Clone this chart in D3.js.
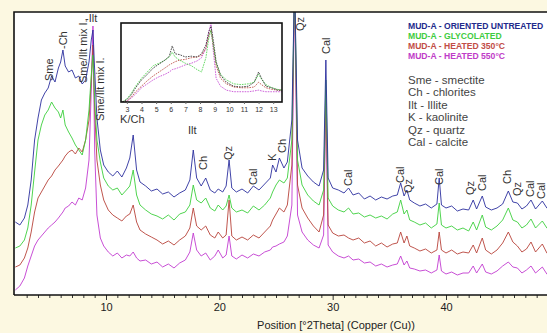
<!DOCTYPE html>
<html>
<head>
<meta charset="utf-8">
<script src="https://cdn.jsdelivr.net/npm/d3@7"></script>
<style>
  body { margin: 0; background: #fcf8e1; }
  svg { display: block; font-family: "Liberation Sans", Arial, sans-serif; }
</style>
</head>
<body>
<script>
// Diffractogram, positions in °2Theta (Cu), intensities in counts
const twoTheta = [
  2.0, 2.4, 2.8, 3.1, 3.4, 3.7, 4.0, 4.3, 4.6, 4.9,
  5.2, 5.5, 5.8, 6.0, 6.2, 6.4, 6.7, 7.0, 7.3, 7.6,
  7.9, 8.2, 8.5, 8.7, 8.85, 9.0, 9.2, 9.5, 9.8, 10.2,
  10.6, 11.0, 11.4, 11.8, 12.1, 12.4, 12.7, 13.0, 13.5, 14.0,
  14.5, 15.0, 15.5, 16.0, 16.5, 17.0, 17.4, 17.7, 18.0, 18.4,
  18.8, 19.2, 19.6, 19.9, 20.3, 20.6, 20.86, 21.1, 21.5, 22.0,
  22.5, 23.0, 23.5, 24.0, 24.5, 24.7, 25.0, 25.3, 25.7, 26.0,
  26.4, 26.64, 26.9, 27.3, 27.8, 28.3, 28.8, 29.2, 29.4, 29.6,
  30.0, 30.5, 31.0, 31.4, 31.8, 32.3, 32.8, 33.3, 33.8, 34.3,
  34.8, 35.3, 35.7, 36.0, 36.3, 36.55, 36.8, 37.2, 37.7, 38.2,
  38.7, 39.2, 39.4, 39.6, 40.0, 40.5, 41.0, 41.5, 42.0, 42.4,
  42.7, 43.2, 43.5, 44.0, 44.5, 45.0, 45.5, 45.9, 46.3, 46.7,
  47.1, 47.5, 47.9, 48.5, 48.9, 49.3
];
const untreated = [
  730, 700, 770, 900, 1150, 1550, 1770, 1950, 2020, 2070,
  2190, 2130, 2270, 2330, 2450, 2290, 2230, 2250, 2170, 2190,
  2110, 2150, 2330, 2550, 2650, 2250, 1770, 1450, 1300, 1230,
  1190, 1240, 1180, 1270, 1370, 1600, 1250, 1130, 1090, 1040,
  1060, 1010, 1030, 980, 1020, 1050, 1150, 1450, 1170, 1090,
  1170, 1050, 1020, 1060, 1030, 1090, 1350, 1070, 1030, 1060,
  1020, 1090, 1050, 1110, 1170, 1300, 1230, 1370, 1270, 1330,
  1750, 3150, 1550, 1270, 1190, 1130, 1090, 1250, 2350, 1170,
  1070, 1050, 1020, 1070, 1000, 1020, 960, 990, 950, 980,
  960, 990, 1000, 1120, 990, 1050, 950, 920, 890, 910,
  870, 910, 1170, 900, 870, 890, 840, 860, 850, 950,
  860, 990, 880, 850, 870, 910, 1040, 930, 920, 860,
  890, 950, 860, 940, 870, 890
];
const glycolated = [
  470, 490, 550, 670, 900, 1230, 1550, 1700, 1800, 1850,
  1930, 1870, 1830, 1770, 1850, 1700, 1630, 1570, 1500, 1450,
  1400, 1550, 1850, 2200, 2400, 1950, 1550, 1330, 1170, 1090,
  1050, 1070, 1000, 1050, 1090, 1250, 1000, 900, 850, 810,
  790, 760, 800, 750, 810, 830, 900, 1100, 950, 920,
  970, 870, 840, 900, 850, 890, 1000, 870, 830, 850,
  820, 890, 850, 900, 970, 1030, 1100, 1150, 1120, 1170,
  1550, 3150, 1350, 1100, 1000, 940, 900, 1050, 2150, 970,
  890, 850, 830, 870, 810, 820, 780, 800, 770, 790,
  760, 810, 830, 950, 810, 850, 750, 730, 700, 720,
  670, 710, 920, 700, 670, 690, 650, 670, 640, 730,
  650, 800, 680, 650, 690, 750, 870, 750, 730, 670,
  700, 760, 670, 740, 670, 690
];
const heated350 = [
  280, 300, 370, 470, 630, 830, 970, 1030, 1090, 1150,
  1190, 1250, 1290, 1320, 1350, 1390, 1430, 1450, 1410, 1470,
  1430, 1550, 1750, 2150, 2500, 1850, 1350, 1100, 950, 850,
  800, 770, 740, 790, 810, 900, 730, 650, 610, 580,
  550, 510, 540, 500, 550, 590, 670, 870, 690, 650,
  690, 600, 570, 630, 570, 600, 950, 590, 550, 580,
  550, 600, 570, 630, 690, 750, 810, 870, 830, 900,
  1300, 3150, 1100, 870, 770, 690, 630, 800, 2050, 700,
  620, 590, 600, 570, 550, 570, 520, 540, 490, 520,
  480, 510, 520, 630, 520, 590, 490, 470, 440, 460,
  420, 450, 630, 450, 420, 450, 410, 430, 420, 500,
  420, 570, 450, 410, 450, 520, 630, 530, 490, 430,
  460, 530, 430, 510, 420, 450
];
const heated550 = [
  50, 90, 170, 290, 390, 490, 550, 590, 630, 670,
  700, 730, 770, 800, 830, 870, 890, 930, 900, 970,
  950, 1070, 1350, 2050, 2690, 1450, 800, 570, 490, 430,
  390, 420, 370, 400, 390, 430, 370, 340, 350, 310,
  330, 280, 310, 270, 320, 350, 430, 620, 450, 390,
  420, 350, 390, 450, 370, 400, 590, 390, 360, 400,
  370, 410, 390, 430, 450, 480, 490, 510, 530, 590,
  900, 3150, 800, 630, 550, 500, 470, 600, 1950, 500,
  430, 390, 370, 390, 350, 360, 320, 330, 290, 310,
  280, 300, 310, 390, 300, 340, 270, 260, 240, 250,
  220, 250, 400, 240, 210, 230, 200, 220, 220, 290,
  220, 310, 230, 210, 240, 290, 330, 280, 270, 220,
  250, 290, 220, 280, 210, 240
];

// Inset: low-angle detail, relative intensity (%)
const insetTheta = [
  2.7, 3.0, 3.3, 3.6, 4.0, 4.4, 4.8, 5.2, 5.6, 5.9,
  6.1, 6.3, 6.6, 7.0, 7.4, 7.8, 8.1, 8.4, 8.6, 8.75,
  8.9, 9.1, 9.4, 9.8, 10.3, 10.8, 11.3, 11.7, 12.0, 12.2,
  12.5, 12.9, 13.3, 13.6
];
const insetUntreated = [
  0, 3, 9, 18, 28, 35, 43, 48, 53, 58,
  71, 61, 60, 57, 58, 57, 61, 72, 89, 96,
  79, 51, 34, 25, 20, 19, 20, 25, 38, 30,
  20, 18, 15, 15
];
const insetGlycolated = [
  0, 4, 11, 20, 30, 38, 46, 49, 53, 57,
  63, 57, 53, 49, 46, 41, 38, 56, 81, 91,
  72, 49, 35, 28, 23, 22, 23, 25, 35, 29,
  22, 18, 16, 15
];
const insetHeated350 = [
  0, 1, 6, 13, 20, 27, 33, 38, 43, 47,
  49, 51, 53, 54, 56, 57, 59, 68, 84, 91,
  72, 46, 30, 23, 19, 18, 18, 19, 25, 22,
  18, 16, 15, 15
];
const insetHeated550 = [
  0, 1, 5, 10, 18, 23, 28, 32, 35, 38,
  41, 42, 44, 47, 49, 52, 56, 68, 89, 100,
  66, 30, 20, 15, 13, 13, 13, 14, 15, 14,
  13, 13, 13, 13
];

const seriesNames = [
  "MUD-A - ORIENTED UNTREATED",
  "MUD-A - GLYCOLATED",
  "MUD-A - HEATED 350°C",
  "MUD-A - HEATED 550°C"
];
const mineralKey = [
  "Sme - smectite", "Ch - chlorites", "Ilt - Illite",
  "K - kaolinite", "Qz - quartz", "Cal - calcite"
];
const xTicks = [10, 20, 30, 40];
const insetTicks = [3, 4, 5, 6, 7, 8, 9, 10, 11, 12, 13];

// peak annotations: mineral, position (°2Theta), intensity where the label starts
const peakLabels = [
  ["Sme", 5.0, 2140], ["-Ch", 6.2, 2460], ["Sme/Ilt mix I.", 8.0, 2120],
  ["Sme/Ilt mix I.", 9.5, 1740], ["Ch", 18.56, 1250], ["Qz", 20.77, 1350],
  ["Cal", 22.97, 1100], ["K", 24.65, 1340], ["Ch", 25.53, 1420],
  ["Qz", 27.1, 2640], ["Cal", 29.42, 2410], ["Cal", 31.36, 1090],
  ["Cal", 35.95, 1120], ["Qz", 36.65, 1020], ["Cal", 39.39, 1100],
  ["Qz", 42.13, 1000], ["Cal", 43.19, 1040], ["Ch", 45.4, 1110],
  ["Qz", 46.27, 990], ["Cal", 47.42, 980], ["Cal", 48.42, 960]
];
const flatLabels = [["-Ilt", 8.15, 2730], ["K/Ch", 11.24, 1720], ["Ilt", 17.24, 1610]];

const colors = ["#2b2f9e", "#3ccf3c", "#b8433a", "#c23bd0"];
const legendColors = ["#222a8c", "#3fcc3f", "#c24c46", "#bf3cc8"];
const insetColors = ["#222", "#3ccf3c", "#b8433a", "#c23bd0"];

const width = 547, height = 333;
const plot = { left: 14, top: 12, bottom: 295 };

const svg = d3.select("body").append("svg")
  .attr("width", width).attr("height", height);

svg.append("rect").attr("width", width).attr("height", height).attr("fill", "#fcf8e1");
svg.append("rect")
  .attr("x", plot.left).attr("y", plot.top)
  .attr("width", width - plot.left + 10).attr("height", plot.bottom - plot.top)
  .attr("fill", "#fff");

const x = d3.scaleLinear().domain([10, 40]).range([106, 446]);
const y = d3.scaleLinear().domain([0, 2830]).range([plot.bottom, plot.top]);

svg.append("clipPath").attr("id", "plotClip")
  .append("rect").attr("x", plot.left).attr("y", plot.top)
  .attr("width", width).attr("height", plot.bottom - plot.top);

const line = d3.line()
  .x((d, i) => x(twoTheta[i]))
  .y(d => y(d));

const curves = svg.append("g").attr("clip-path", "url(#plotClip)");
// draw bottom series first so the untreated pattern sits on top
[heated550, heated350, glycolated, untreated].forEach((s, k) => {
  curves.append("path")
    .attr("d", line(s))
    .attr("fill", "none")
    .attr("stroke", colors[3 - k])
    .attr("stroke-width", 0.9)
    .attr("stroke-linejoin", "round");
});

// frame: top and left
svg.append("path")
  .attr("d", `M${plot.left},${plot.bottom}V${plot.top}H${width}`)
  .attr("fill", "none").attr("stroke", "#111").attr("stroke-width", 1.6);

// x axis
const axisG = svg.append("g").attr("transform", `translate(0,${plot.bottom})`);
axisG.call(d3.axisBottom(x).tickValues(d3.range(3, 50).filter(v => v % 10)).tickSize(3).tickFormat(""))
  .call(g => g.select(".domain").remove());
axisG.append("g").call(d3.axisBottom(x).tickValues(xTicks).tickSize(5).tickSizeOuter(0).tickFormat(d3.format("d")))
  .call(g => g.select(".domain").remove())
  .call(g => g.selectAll("text").attr("font-size", 11).attr("fill", "#222").attr("font-family", "Liberation Sans, Arial, sans-serif"));
axisG.selectAll(".tick line").attr("stroke", "#333");
axisG.append("line").attr("x1", plot.left).attr("x2", width)
  .attr("stroke", "#111").attr("stroke-width", 1.6);

svg.append("text")
  .attr("x", 336).attr("y", 329)
  .attr("text-anchor", "middle").attr("font-size", 11).attr("fill", "#222")
  .text("Position [°2Theta] (Copper (Cu))");

// peak labels
const labelG = svg.append("g").attr("font-size", 11).attr("fill", "#333");
peakLabels.forEach(([t, th, at]) => {
  const lx = x(th) + 4, ly = y(at);
  labelG.append("text")
    .attr("x", lx).attr("y", ly)
    .attr("transform", `rotate(-90,${lx},${ly})`)
    .text(t);
});
flatLabels.forEach(([t, th, at]) => {
  labelG.append("text").attr("x", x(th)).attr("y", y(at)).text(t);
});

// legend
const legendG = svg.append("g").attr("font-size", 8.6).attr("font-weight", "bold");
seriesNames.forEach((n, i) => {
  legendG.append("text").attr("x", 408).attr("y", 29 + i * 10)
    .attr("fill", legendColors[i]).text(n);
});
const keyG = svg.append("g").attr("font-size", 11.5).attr("fill", "#444");
mineralKey.forEach((n, i) => {
  keyG.append("text").attr("x", 408).attr("y", 84 + i * 12.4).text(n);
});

// inset
const inset = { left: 121, right: 282, top: 23, bottom: 102 };
const ix = d3.scaleLinear().domain([2.6, 13.6]).range([inset.left, inset.right]);
const iy = d3.scaleLinear().domain([0, 100]).range([inset.bottom, inset.top]);

svg.append("rect")
  .attr("x", inset.left).attr("y", inset.top)
  .attr("width", inset.right - inset.left).attr("height", inset.bottom - inset.top)
  .attr("fill", "#fff");

svg.append("clipPath").attr("id", "insetClip")
  .append("rect").attr("x", inset.left).attr("y", inset.top)
  .attr("width", inset.right - inset.left).attr("height", inset.bottom - inset.top);

const iline = d3.line().x((d, i) => ix(insetTheta[i])).y(d => iy(d));
const insetCurves = svg.append("g").attr("clip-path", "url(#insetClip)");
[insetHeated550, insetHeated350, insetGlycolated, insetUntreated].forEach((s, k) => {
  insetCurves.append("path")
    .attr("d", iline(s))
    .attr("fill", "none")
    .attr("stroke", insetColors[3 - k])
    .attr("stroke-width", 0.8)
    .attr("stroke-dasharray", "1.6,1");
});

svg.append("rect")
  .attr("x", inset.left).attr("y", inset.top)
  .attr("width", inset.right - inset.left).attr("height", inset.bottom - inset.top)
  .attr("fill", "none").attr("stroke", "#111").attr("stroke-width", 1.6);

svg.append("g").attr("transform", `translate(0,${inset.bottom})`)
  .call(d3.axisBottom(ix).tickValues(insetTicks).tickSize(2).tickPadding(3).tickFormat(d3.format("d")))
  .call(g => g.select(".domain").remove())
  .call(g => g.selectAll(".tick line").attr("stroke", "#666"))
  .call(g => g.selectAll("text").attr("font-size", 7).attr("fill", "#333").attr("font-family", "Liberation Sans, Arial, sans-serif"));
</script>
</body>
</html>
